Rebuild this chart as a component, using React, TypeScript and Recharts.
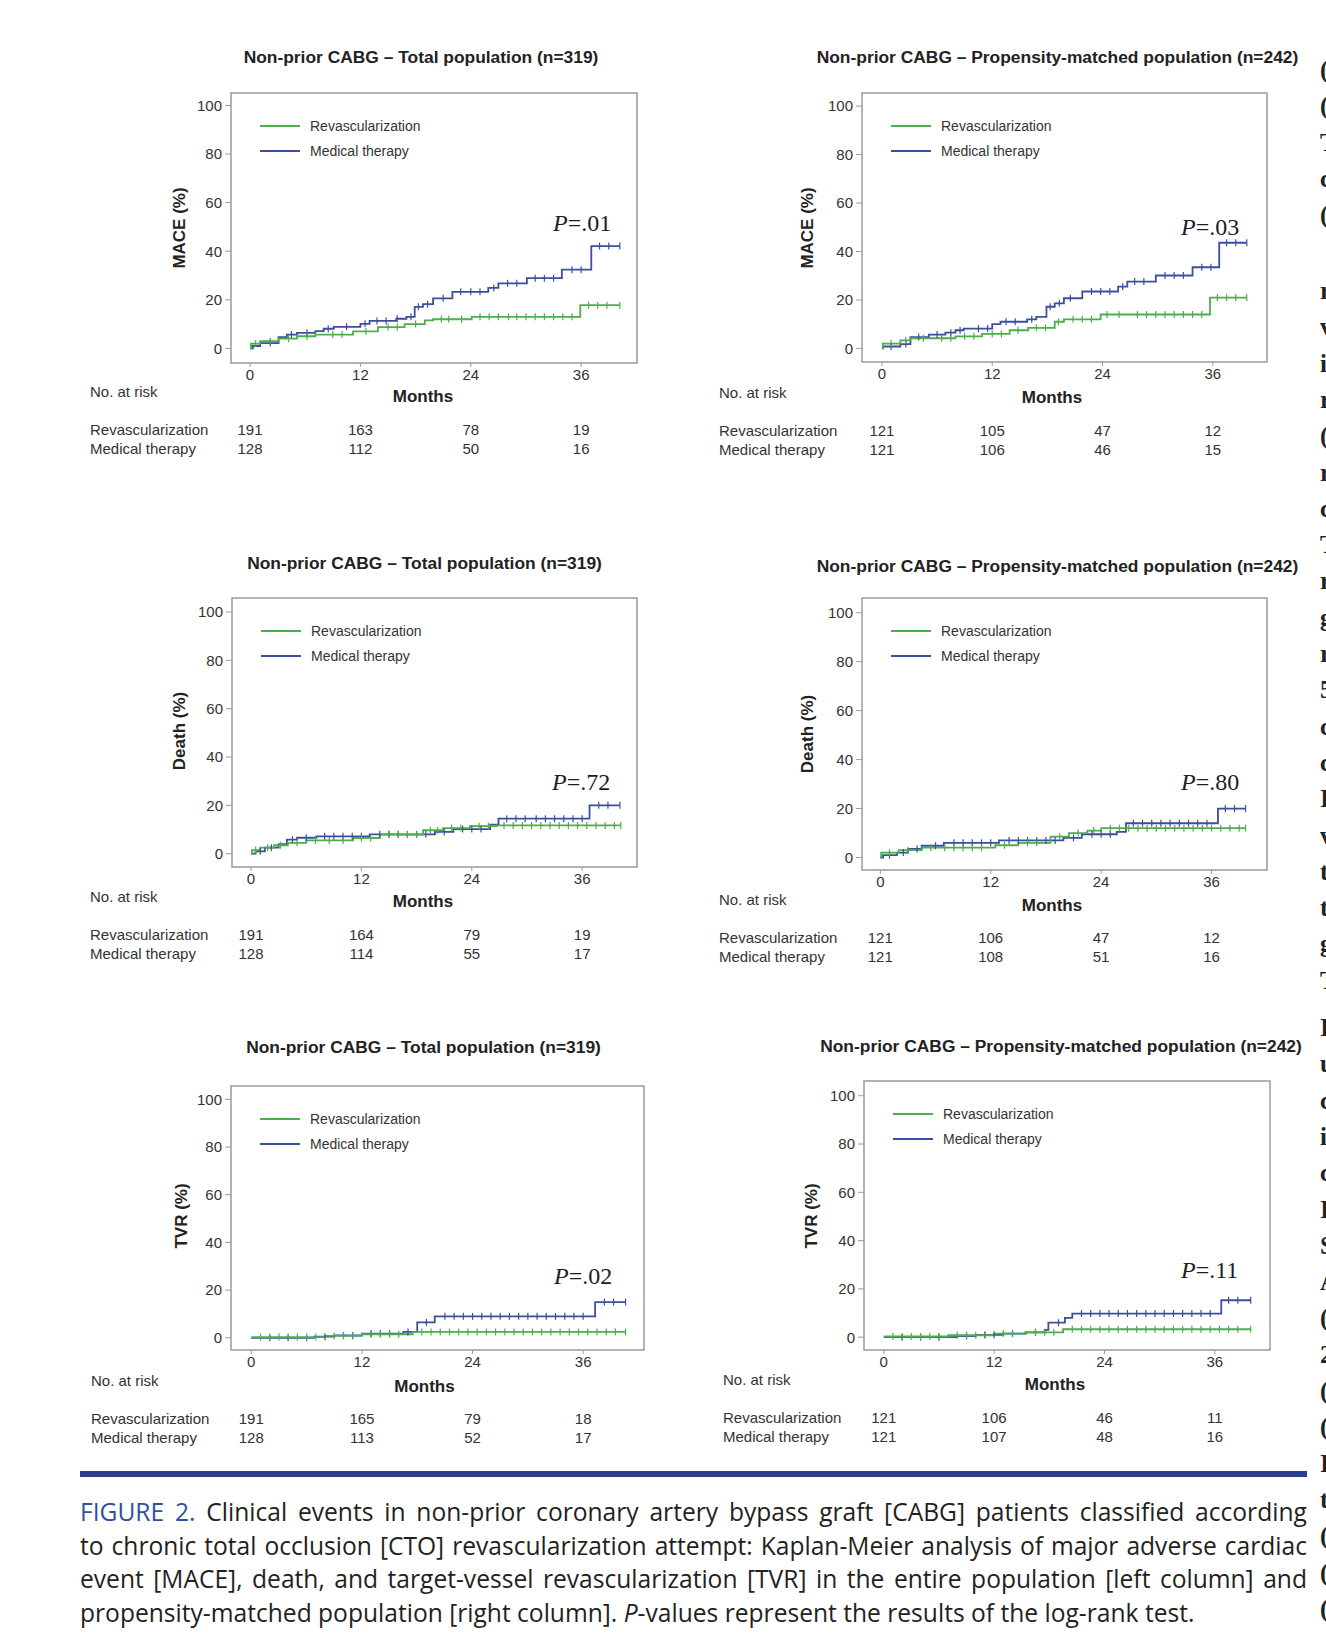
import React from 'react';
import { LineChart, Line, XAxis, YAxis, ReferenceArea, Legend } from 'recharts';

const SANS = '"Liberation Sans", Arial, sans-serif';
const SERIF = '"Liberation Serif", "Times New Roman", serif';
const CAPTION_FONT = '"Open Sans", Lato, sans-serif';
const GREEN = '#4cae4c';
const BLUE = '#3b4f9e';
const FRAME = '#9a9a9a';
const TEXT = '#333';

const MONTH_TICKS = [0, 12, 24, 36];
const PCT_TICKS = [0, 20, 40, 60, 80, 100];
const SERIES_NAMES = ['Revascularization', 'Medical therapy'];

// step points are [month, cumulative %], censor marks are months
const maceTotRev = [[0, 0], [0.1, 2], [1.1, 3], [3.1, 4], [5.1, 5], [7.1, 5.7], [11.2, 7], [13.9, 8.8], [16.8, 10], [19, 11.5], [19.9, 12], [24.1, 13], [35.9, 17.8]];
const maceTotRevCens = [0.6, 2.2, 4.2, 6.2, 9, 10, 12.6, 15, 16, 18, 20.8, 21.6, 23, 25, 26, 27, 28.1, 29, 30, 31, 32, 33, 34, 35, 36.8, 37.8, 38.8, 40.2];
const maceTotMed = [[0, 0], [0.3, 1], [1.1, 2.2], [3.1, 4.6], [4, 5.7], [5.1, 6.4], [7.1, 7.1], [8, 8.1], [9.1, 8.9], [12, 10.1], [13, 11.3], [15.9, 12.2], [17, 13], [17.9, 17.1], [18.8, 18.2], [19.9, 20.6], [22, 23.3], [25.9, 24.9], [27, 26.8], [30.1, 28.9], [33.9, 32.4], [37.1, 42.1]];
const maceTotMedCens = [2.2, 4.5, 6.2, 8.5, 10.5, 12.5, 13.8, 14.8, 16, 17.5, 18.3, 19.3, 21, 22.9, 24, 25, 26.5, 28, 29, 31, 32, 33, 35, 36, 38, 39, 40.2];

const macePsmRev = [[0, 0], [0.1, 2], [2, 3.3], [3.1, 4.2], [8, 5], [10.9, 6], [13.9, 7.5], [15.9, 8.5], [18.8, 11], [19.8, 12], [23.8, 14], [35.7, 21]];
const macePsmRevCens = [1, 2.6, 4.5, 6.5, 7.5, 9, 10, 12, 13, 14.8, 16.8, 17.8, 19.2, 20.8, 21.8, 22.8, 24.5, 25.8, 27.8, 28.8, 29.8, 30.8, 31.8, 32.8, 33.8, 34.8, 36.5, 37.5, 38.5, 39.7];
const macePsmMed = [[0, 0], [0.1, 0.8], [2, 1.8], [3.1, 4.7], [5.1, 5.7], [6.9, 6.5], [8, 7.5], [8.9, 8.2], [12, 10], [12.9, 11], [15.8, 12], [16.8, 13], [17.9, 17.2], [18.8, 18.6], [19.8, 20.7], [21.8, 23.5], [25.7, 25.5], [26.7, 27.6], [29.8, 30.1], [33.8, 33.5], [36.7, 43.6]];
const macePsmMedCens = [1, 2.6, 4, 6, 7.5, 8.5, 10.5, 11.5, 13.5, 14.5, 16.3, 18.3, 19.3, 20.5, 22.8, 23.8, 24.8, 26.2, 27.5, 28.5, 30.8, 31.8, 32.8, 34.8, 35.8, 37.5, 38.5, 39.7];

const deathTotRev = [[0, 0], [0.1, 1.5], [1, 2.5], [2.5, 3.5], [4, 4.5], [6, 5.5], [11.1, 6.5], [14, 7.9], [18.7, 9.7], [20.9, 10.6], [23.8, 11.4], [26.7, 11.7]];
const deathTotRevCens = [0.5, 1.8, 3.2, 5, 7, 8.5, 10, 12, 13, 15, 16, 17, 18, 19.5, 20.3, 21.8, 22.8, 24.8, 25.8, 27.5, 28.5, 29.5, 30.5, 31.5, 32.5, 33.5, 34.5, 35.5, 36.5, 37.5, 38.5, 39.5, 40.2];
const deathTotMed = [[0, 0], [0.5, 1], [1.5, 2.5], [3, 4], [3.9, 5.8], [5, 6.6], [7.1, 7.2], [12.9, 8], [20, 9], [22, 10.2], [26, 12], [26.9, 14.5], [36.8, 20]];
const deathTotMedCens = [1, 2.2, 4.5, 6, 8, 9, 10, 11, 12, 14, 15, 16, 17, 18, 19, 21, 23, 24, 25, 27.8, 28.8, 29.8, 31, 32, 33, 34, 35, 36, 37.8, 38.8, 40.1];

const deathPsmRev = [[0, 0], [0.1, 2], [2, 3], [4.5, 4], [12.5, 5], [15, 6], [18.5, 8.5], [20.5, 10], [22.5, 11], [24, 12]];
const deathPsmRevCens = [1, 3, 5.5, 7, 8, 9, 10, 11, 13.5, 16, 17, 19.5, 21.5, 23.2, 25, 26, 27, 28, 29, 30, 31, 32, 33, 34, 35, 36, 37, 38, 39, 39.7];
const deathPsmMed = [[0, 0], [0.3, 1], [1.8, 2], [3, 3.5], [4.5, 4.8], [6.9, 6], [12.9, 7], [19.9, 8], [21.9, 9.5], [25.7, 10.5], [26.7, 14], [36.7, 20]];
const deathPsmMedCens = [1, 2.5, 4, 6, 8, 9, 10, 11, 12, 14, 15, 16, 17, 18, 19, 21, 23, 24, 25, 27.5, 28.5, 29.5, 30.5, 31.5, 32.5, 33.5, 34.5, 35.5, 37.5, 38.5, 39.7];

const tvrTotRev = [[0, 0.3], [8, 0.8], [12, 1.5], [17.5, 2.5]];
const tvrTotRevCens = [1, 2, 3, 4, 5, 6, 7, 9, 10, 11, 13, 14, 15, 16, 18.5, 19.5, 20.5, 21.5, 22.5, 23.5, 24.5, 25.5, 26.5, 27.5, 28.5, 29.5, 30.5, 31.5, 32.5, 33.5, 34.5, 35.5, 36.5, 37.5, 38.5, 39.5, 40.6];
const tvrTotMed = [[0, 0], [6.8, 0.5], [9, 1], [12, 1.8], [16.5, 2.5], [18, 6.5], [19.9, 9], [37.3, 15]];
const tvrTotMedCens = [2, 4, 6, 8, 10, 11, 13, 14, 15, 17, 19, 21, 22, 23, 24, 25, 26, 27, 28, 29, 30, 31, 32, 33, 34, 35, 36, 38.3, 39.3, 40.6];

const tvrPsmRev = [[0, 0.3], [7, 0.8], [12, 1.5], [15.5, 2], [19.5, 3.3]];
const tvrPsmRevCens = [1, 2, 3, 4, 5, 6, 8, 9, 10, 11, 13, 14, 16.5, 17.5, 18.5, 20.5, 21.5, 22.5, 23.5, 24.5, 25.5, 26.5, 27.5, 28.5, 29.5, 30.5, 31.5, 32.5, 33.5, 34.5, 35.5, 36.5, 37.5, 38.5, 39.9];
const tvrPsmMed = [[0, 0], [7.9, 0.5], [10, 1], [13, 1.5], [15.4, 2], [17.5, 3], [17.9, 6], [19.7, 8], [20.5, 9.8], [36.7, 15.3]];
const tvrPsmMedCens = [2, 4, 6, 9, 11, 12, 14, 16.5, 19, 21.5, 22.5, 23.5, 24.5, 25.5, 26.5, 27.5, 28.5, 29.5, 30.5, 31.5, 32.5, 33.5, 34.5, 35.5, 37.5, 38.5, 39.9];

// numbers at risk at 0, 12, 24, 36 months
const maceTotRiskRev = [191, 163, 78, 19];
const maceTotRiskMed = [128, 112, 50, 16];
const macePsmRiskRev = [121, 105, 47, 12];
const macePsmRiskMed = [121, 106, 46, 15];
const deathTotRiskRev = [191, 164, 79, 19];
const deathTotRiskMed = [128, 114, 55, 17];
const deathPsmRiskRev = [121, 106, 47, 12];
const deathPsmRiskMed = [121, 108, 51, 16];
const tvrTotRiskRev = [191, 165, 79, 18];
const tvrTotRiskMed = [128, 113, 52, 17];
const tvrPsmRiskRev = [121, 106, 46, 11];
const tvrPsmRiskMed = [121, 107, 48, 16];

const TITLE_TOTAL = 'Non-prior CABG – Total population (n=319)';
const TITLE_PSM = 'Non-prior CABG – Propensity-matched population (n=242)';

const PANELS = [
  {
    title: TITLE_TOTAL, titleX: 421, titleY: 57.5, yLabel: 'MACE (%)', yLabelX: 179, yLabelY: 228,
    box: [231, 93, 406, 270], xDomain: [-2.07, 42.07], yDomain: [-6, 105.1],
    rev: maceTotRev, revCens: maceTotRevCens, med: maceTotMed, medCens: maceTotMedCens,
    p: '=.01', pX: 553, pY: 223, monthsX: 423, monthsY: 396,
    riskX: 90, riskY: 391, revY: 428.5, medY: 447.5, riskRev: maceTotRiskRev, riskMed: maceTotRiskMed,
  },
  {
    title: TITLE_PSM, titleX: 1057.5, titleY: 57.5, yLabel: 'MACE (%)', yLabelX: 807, yLabelY: 228,
    box: [862, 93, 405, 269], xDomain: [-2.17, 41.9], yDomain: [-5.6, 105.4],
    rev: macePsmRev, revCens: macePsmRevCens, med: macePsmMed, medCens: macePsmMedCens,
    p: '=.03', pX: 1181, pY: 227, monthsX: 1052, monthsY: 397,
    riskX: 719, riskY: 392, revY: 429.5, medY: 448.5, riskRev: macePsmRiskRev, riskMed: macePsmRiskMed,
  },
  {
    title: TITLE_TOTAL, titleX: 424.5, titleY: 564, yLabel: 'Death (%)', yLabelX: 179, yLabelY: 731,
    box: [232, 598, 405, 269], xDomain: [-2.07, 41.96], yDomain: [-5.5, 105.8],
    rev: deathTotRev, revCens: deathTotRevCens, med: deathTotMed, medCens: deathTotMedCens,
    p: '=.72', pX: 552, pY: 782, monthsX: 423, monthsY: 901,
    riskX: 90, riskY: 896, revY: 934, medY: 952.5, riskRev: deathTotRiskRev, riskMed: deathTotRiskMed,
  },
  {
    title: TITLE_PSM, titleX: 1057.5, titleY: 567, yLabel: 'Death (%)', yLabelX: 807, yLabelY: 734,
    box: [862, 598, 405, 272], xDomain: [-1.99, 42.03], yDomain: [-5.1, 106],
    rev: deathPsmRev, revCens: deathPsmRevCens, med: deathPsmMed, medCens: deathPsmMedCens,
    p: '=.80', pX: 1181, pY: 782, monthsX: 1052, monthsY: 904.5,
    riskX: 719, riskY: 899, revY: 937, medY: 956, riskRev: deathPsmRiskRev, riskMed: deathPsmRiskMed,
  },
  {
    title: TITLE_TOTAL, titleX: 423.5, titleY: 1048, yLabel: 'TVR (%)', yLabelX: 181, yLabelY: 1216,
    box: [231, 1086, 413, 264], xDomain: [-2.2, 42.6], yDomain: [-5.1, 105.6],
    rev: tvrTotRev, revCens: tvrTotRevCens, med: tvrTotMed, medCens: tvrTotMedCens,
    p: '=.02', pX: 554, pY: 1276, monthsX: 424.5, monthsY: 1385.5,
    riskX: 91, riskY: 1380, revY: 1418, medY: 1437, riskRev: tvrTotRiskRev, riskMed: tvrTotRiskMed,
  },
  {
    title: TITLE_PSM, titleX: 1061, titleY: 1047, yLabel: 'TVR (%)', yLabelX: 811, yLabelY: 1216,
    box: [864, 1081, 406, 269], xDomain: [-2.15, 42.0], yDomain: [-5.3, 106.1],
    rev: tvrPsmRev, revCens: tvrPsmRevCens, med: tvrPsmMed, medCens: tvrPsmMedCens,
    p: '=.11', pX: 1181, pY: 1270, monthsX: 1055, monthsY: 1384,
    riskX: 723, riskY: 1379, revY: 1417, medY: 1436, riskRev: tvrPsmRiskRev, riskMed: tvrPsmRiskMed,
  },
];

// justified caption lines (the last one is set flush left)
const CAPTION_LINES = [
  'FIGURE 2. Clinical events in non-prior coronary artery bypass graft [CABG] patients classified according',
  'to chronic total occlusion [CTO] revascularization attempt: Kaplan-Meier analysis of major adverse cardiac',
  'event [MACE], death, and target-vessel revascularization [TVR] in the entire population [left column] and',
];

// first letters of the next text column, cut by the page edge
const EDGE_A = ['(', '(', 'T', 'c', '('];
const EDGE_B = ['r', 'v', 'i', 'r', '(', 'r', 'c', 'T', 'r', 'g', 'r', '5', 'c', 'c', 'I', 'v', 't', 't', 'g', 'T'];
const EDGE_C = ['I', 'u', 'c', 'i', 'c', 'I', 'S', 'A', '(', '2', '(', '(', 'I', 't', '(', '(', '('];

function buildSeries(steps: number[][], censor: number[]) {
  const valueAt = (t: number) => {
    let v = steps[0][1];
    for (const [st, sv] of steps) if (st <= t) v = sv;
    return v;
  };
  const pts = [
    ...steps.map(([t, v]) => ({ t, v, c: false })),
    ...censor.map((t) => ({ t, v: valueAt(t), c: true })),
  ];
  return pts.sort((a, b) => a.t - b.t);
}

const censorDot = (color: string) => (props: any) => {
  const { cx, cy, payload, index } = props;
  if (!payload || !payload.c) return <g key={`n-${index}`} />;
  return <line key={`c-${index}`} x1={cx} x2={cx} y1={cy - 3.5} y2={cy + 3.5} stroke={color} strokeWidth={1.2} />;
};

const renderLegend = (props: any) => {
  const items = [...(props.payload || [])].sort(
    (a: any, b: any) => SERIES_NAMES.indexOf(a.value) - SERIES_NAMES.indexOf(b.value)
  );
  return (
    <div style={{ fontFamily: SANS, fontSize: 14, color: TEXT }}>
      {items.map((it: any) => (
        <div key={it.value} style={{ display: 'flex', alignItems: 'center', height: 24.5, whiteSpace: 'nowrap' }}>
          <span style={{ display: 'inline-block', width: 40, height: 2, background: it.color, marginRight: 10 }} />
          {it.value}
        </div>
      ))}
    </div>
  );
};

function Abs({ x, y, center, style, children }: any) {
  return (
    <div
      style={{
        position: 'absolute',
        left: x,
        top: y,
        transform: `translate(${center ? '-50%' : '0'}, -50%)`,
        whiteSpace: 'nowrap',
        lineHeight: 1,
        ...style,
      }}
    >
      {children}
    </div>
  );
}

function Panel({ cfg }: any) {
  const [bx, by, bw, bh] = cfg.box;
  const ML = 50;
  const MT = 10;
  const MR = 12;
  const XH = 30;
  const [x0, x1] = cfg.xDomain;
  const [y0, y1] = cfg.yDomain;
  const xOf = (t: number) => bx + ((t - x0) / (x1 - x0)) * bw;
  const rev = buildSeries(cfg.rev, cfg.revCens);
  const med = buildSeries(cfg.med, cfg.medCens);
  const small = { fontFamily: SANS, fontSize: 15, color: TEXT };
  return (
    <>
      <Abs x={cfg.titleX} y={cfg.titleY} center style={{ fontFamily: SANS, fontSize: 17.4, fontWeight: 'bold', color: '#222' }}>
        {cfg.title}
      </Abs>
      <Abs
        x={cfg.yLabelX}
        y={cfg.yLabelY}
        style={{ fontFamily: SANS, fontSize: 17, fontWeight: 'bold', color: '#222', transform: 'translate(-50%, -50%) rotate(-90deg)' }}
      >
        {cfg.yLabel}
      </Abs>
      <div style={{ position: 'absolute', left: bx - ML, top: by - MT }}>
        <LineChart width={bw + ML + MR} height={bh + MT + XH} margin={{ top: MT, right: MR, bottom: 0, left: 0 }}>
          <XAxis
            type="number"
            dataKey="t"
            domain={cfg.xDomain}
            ticks={MONTH_TICKS}
            allowDataOverflow
            height={XH}
            axisLine={false}
            tickLine={{ stroke: FRAME }}
            tickSize={4}
            tickMargin={2}
            tick={{ fill: TEXT, fontSize: 15, fontFamily: SANS }}
          />
          <YAxis
            type="number"
            domain={cfg.yDomain}
            ticks={PCT_TICKS}
            allowDataOverflow
            width={ML}
            axisLine={false}
            tickLine={{ stroke: FRAME }}
            tickSize={6}
            tickMargin={3}
            tick={{ fill: TEXT, fontSize: 15, fontFamily: SANS }}
          />
          <ReferenceArea x1={x0} x2={x1} y1={y0} y2={y1} fill="none" fillOpacity={0} stroke={FRAME} strokeWidth={1.5} ifOverflow="visible" />
          <Line
            data={med}
            dataKey="v"
            name="Medical therapy"
            type="stepAfter"
            stroke={BLUE}
            strokeWidth={1.8}
            dot={censorDot(BLUE)}
            activeDot={false}
            isAnimationActive={false}
          />
          <Line
            data={rev}
            dataKey="v"
            name="Revascularization"
            type="stepAfter"
            stroke={GREEN}
            strokeWidth={1.8}
            dot={censorDot(GREEN)}
            activeDot={false}
            isAnimationActive={false}
          />
          <Legend
            layout="vertical"
            align="center"
            verticalAlign="middle"
            wrapperStyle={{ left: ML + 29, top: MT + 21, width: 'auto' }}
            content={renderLegend}
          />
        </LineChart>
      </div>
      <Abs x={cfg.pX} y={cfg.pY} style={{ fontFamily: SERIF, fontSize: 24, color: '#1c1c2a' }}>
        <span style={{ fontStyle: 'italic' }}>P</span>
        {cfg.p}
      </Abs>
      <Abs x={cfg.monthsX} y={cfg.monthsY} center style={{ fontFamily: SANS, fontSize: 17, fontWeight: 'bold', color: '#222' }}>
        Months
      </Abs>
      <Abs x={cfg.riskX} y={cfg.riskY} style={small}>No. at risk</Abs>
      <Abs x={cfg.riskX} y={cfg.revY} style={small}>{SERIES_NAMES[0]}</Abs>
      <Abs x={cfg.riskX} y={cfg.medY} style={small}>{SERIES_NAMES[1]}</Abs>
      {MONTH_TICKS.map((t, i) => (
        <React.Fragment key={t}>
          <Abs x={xOf(t)} y={cfg.revY} center style={small}>{cfg.riskRev[i]}</Abs>
          <Abs x={xOf(t)} y={cfg.medY} center style={small}>{cfg.riskMed[i]}</Abs>
        </React.Fragment>
      ))}
    </>
  );
}

export default function App() {
  const capLine = { height: 33.5, lineHeight: '33.5px', whiteSpace: 'nowrap' as const };
  return (
    <div
      style={{
        position: 'absolute',
        left: 0,
        top: 0,
        width: 1326,
        height: 1644,
        overflow: 'hidden',
        background: '#fff',
      }}
    >
      {PANELS.map((cfg, i) => (
        <Panel key={i} cfg={cfg} />
      ))}

      <div style={{ position: 'absolute', left: 80, top: 1471, width: 1227, height: 6, background: '#2d3e8c' }} />

      <div
        style={{
          position: 'absolute',
          left: 80,
          top: 1495,
          width: 1227,
          fontFamily: CAPTION_FONT,
          fontSize: 24.6,
          color: '#231f20',
        }}
      >
        {CAPTION_LINES.map((line, i) => (
          <div key={i} style={{ ...capLine, display: 'flex', justifyContent: 'space-between' }}>
            {line.split(' ').map((w, j) => (
              <span key={j} style={i === 0 && j < 2 ? { color: '#2f4f9f' } : undefined}>
                {w}
              </span>
            ))}
          </div>
        ))}
        <div style={capLine}>
          propensity-matched population [right column]. <span style={{ fontStyle: 'italic' }}>P</span>-values represent the results of the log-rank test.
        </div>
      </div>

      {[
        { chars: EDGE_A, top: 69 },
        { chars: EDGE_B, top: 290 },
        { chars: EDGE_C, top: 1027 },
      ].map((blk, b) =>
        blk.chars.map((ch, i) => (
          <Abs
            key={`${b}-${i}`}
            x={1320}
            y={blk.top + i * 36.3}
            style={{ fontFamily: SERIF, fontSize: 25, fontWeight: 'bold', color: '#222' }}
          >
            {ch}
          </Abs>
        ))
      )}
    </div>
  );
}
